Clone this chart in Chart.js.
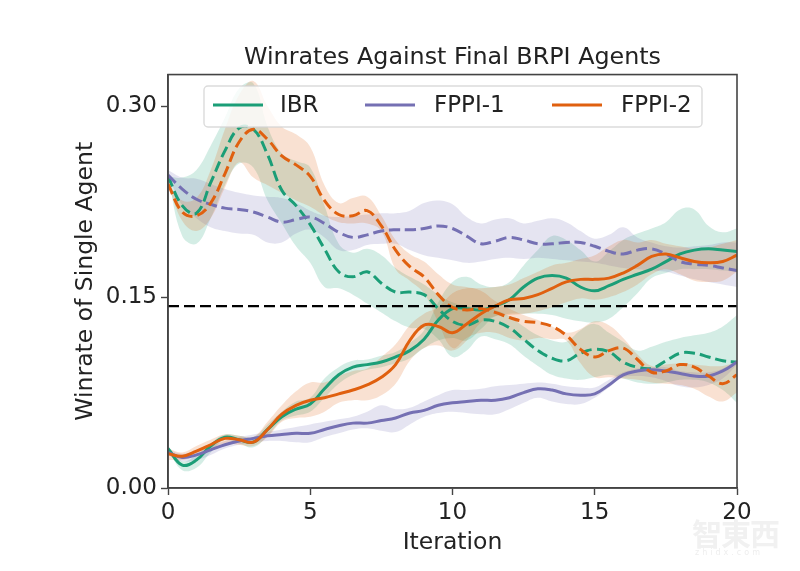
<!DOCTYPE html>
<html>
<head>
<meta charset="utf-8">
<script src="https://cdn.jsdelivr.net/npm/chart.js@4"></script>
<style>
    body { margin: 0; background: #fff; }
    #wrap { position: relative; width: 800px; height: 571px; }
    #mark { position: absolute; left: 692px; top: 510px; font: bold 30px "Noto Sans CJK TC"; color: #f1f1f1; letter-spacing: -1px; }
    #markSub { position: absolute; left: 695px; top: 548px; font: 8px "DejaVu Sans"; color: #eeeeee; letter-spacing: 3px; }
</style>
</head>
<body>
<div id="wrap">
    <canvas id="winrateChart" width="800" height="571"></canvas>
    <div id="mark">智東西</div>
    <div id="markSub">zhidx.com</div>
</div>
<script>
const iterations = [0,0.5,1,1.5,2,2.5,3,3.5,4,4.5,5,5.5,6,6.5,7,7.5,8,8.5,9,9.5,10,10.5,11,11.5,12,12.5,13,13.5,14,14.5,15,15.5,16,16.5,17,17.5,18,18.5,19,19.5,20];
const legendNames = ['IBR', 'FPPI-1', 'FPPI-2'];
const xTicks = [0, 5, 10, 15, 20];
const yTicks = [0, 0.15, 0.30];
const baseline = 0.143;

// dashed curves (upper group)
const ibrDash = [.245,.222,.216,.240,.265,.283,.282,.262,.234,.222,.207,.188,.170,.166,.170,.161,.154,.154,.152,.141,.131,.128,.132,.131,.126,.117,.108,.102,.100,.106,.109,.107,.099,.095,.094,.100,.106,.106,.103,.100,.099];
const ibrDashHi = [.245,.244,.250,.269,.291,.314,.318,.284,.263,.257,.252,.222,.192,.185,.188,.183,.173,.166,.160,.152,.146,.143,.142,.140,.135,.127,.120,.116,.115,.124,.129,.122,.115,.108,.111,.115,.118,.120,.122,.127,.136];
const ibrDashLo = [.245,.198,.192,.212,.238,.255,.252,.226,.208,.190,.177,.158,.157,.152,.145,.138,.131,.126,.125,.117,.103,.108,.119,.117,.113,.104,.096,.089,.086,.085,.087,.089,.086,.083,.082,.083,.085,.085,.083,.077,.067];
const fppi1Dash = [.246,.235,.227,.223,.220,.219,.217,.213,.209,.211,.213,.208,.201,.197,.199,.202,.203,.203,.204,.206,.204,.198,.192,.194,.197,.195,.192,.192,.193,.193,.190,.186,.184,.187,.188,.184,.178,.176,.175,.173,.171];
const fppi1DashHi = [.250,.244,.243,.239,.235,.232,.230,.229,.228,.224,.218,.214,.213,.214,.215,.216,.216,.218,.224,.226,.223,.213,.208,.211,.212,.208,.210,.212,.209,.202,.196,.199,.205,.197,.193,.190,.189,.190,.191,.193,.193];
const fppi1DashLo = [.246,.222,.212,.205,.202,.200,.199,.193,.193,.200,.203,.197,.187,.187,.191,.192,.192,.187,.183,.181,.179,.177,.178,.180,.181,.180,.181,.180,.179,.178,.177,.175,.173,.172,.171,.170,.167,.164,.162,.160,.158];
const fppi2Dash = [.239,.217,.214,.224,.247,.272,.282,.274,.261,.254,.245,.226,.215,.214,.218,.206,.187,.174,.166,.152,.142,.140,.141,.138,.134,.131,.130,.127,.120,.109,.103,.108,.110,.101,.091,.092,.097,.095,.088,.082,.089];
const fppi2DashHi = [.239,.226,.228,.250,.282,.309,.320,.300,.284,.278,.268,.238,.224,.228,.229,.214,.195,.184,.178,.168,.160,.158,.155,.147,.141,.136,.132,.127,.122,.125,.131,.128,.118,.105,.096,.097,.098,.097,.096,.096,.099];
const fppi2DashLo = [.239,.210,.202,.212,.236,.256,.244,.238,.232,.226,.221,.214,.209,.208,.208,.202,.172,.163,.153,.130,.110,.118,.122,.122,.118,.116,.118,.117,.116,.098,.087,.087,.086,.085,.083,.082,.081,.078,.072,.068,.075];

// solid curves (lower group)
const ibrSolid = [.031,.018,.022,.033,.040,.038,.036,.046,.056,.062,.066,.078,.089,.095,.097,.099,.103,.108,.117,.132,.141,.141,.140,.143,.148,.158,.165,.167,.165,.158,.155,.159,.164,.168,.172,.178,.184,.187,.188,.187,.186];
const ibrSolidHi = [.032,.021,.026,.035,.042,.041,.040,.050,.060,.068,.071,.086,.095,.100,.101,.104,.107,.114,.124,.146,.162,.166,.160,.158,.162,.175,.187,.198,.195,.187,.178,.186,.195,.200,.204,.209,.219,.219,.206,.201,.204];
const ibrSolidLo = [.030,.014,.016,.028,.038,.035,.032,.041,.053,.057,.060,.071,.082,.089,.093,.095,.098,.102,.110,.116,.118,.116,.125,.135,.137,.137,.137,.136,.133,.131,.130,.133,.142,.153,.165,.169,.172,.172,.172,.171,.170];
const fppi1Solid = [.028,.024,.026,.030,.034,.037,.039,.041,.042,.043,.043,.046,.049,.051,.051,.053,.055,.059,.061,.065,.067,.068,.069,.069,.071,.075,.078,.077,.074,.073,.074,.081,.089,.092,.093,.092,.090,.088,.088,.092,.099];
const fppi1SolidHi = [.030,.027,.029,.033,.037,.040,.042,.044,.046,.048,.050,.052,.054,.056,.060,.065,.062,.063,.068,.073,.077,.077,.078,.080,.081,.082,.083,.082,.080,.079,.079,.085,.091,.094,.095,.095,.092,.091,.091,.094,.100];
const fppi1SolidLo = [.026,.021,.022,.026,.031,.034,.036,.037,.037,.036,.036,.040,.043,.046,.047,.045,.044,.050,.056,.059,.060,.059,.058,.058,.062,.067,.071,.068,.066,.066,.071,.079,.087,.088,.087,.084,.080,.079,.081,.086,.097];
const fppi2Solid = [.027,.025,.029,.034,.039,.038,.036,.046,.058,.065,.069,.071,.074,.077,.081,.087,.097,.116,.128,.127,.122,.129,.137,.143,.148,.149,.152,.157,.162,.164,.164,.165,.169,.175,.182,.184,.181,.178,.177,.178,.183];
const fppi2SolidHi = [.031,.028,.033,.038,.042,.041,.040,.052,.065,.076,.083,.083,.088,.092,.094,.103,.113,.128,.137,.142,.153,.157,.157,.158,.160,.165,.170,.175,.177,.180,.183,.190,.195,.193,.195,.192,.190,.188,.189,.192,.195];
const fppi2SolidLo = [.022,.022,.026,.030,.035,.034,.033,.040,.052,.055,.056,.060,.067,.069,.069,.073,.082,.100,.110,.112,.108,.116,.130,.135,.136,.137,.139,.142,.146,.149,.148,.150,.154,.160,.168,.172,.168,.163,.162,.163,.170];

const green = '#1b9e77', purple = '#7570b3', orange = '#e0600f';

function toPoints(values) {
    return values.map((v, i) => ({ x: iterations[i], y: v }));
}

const datasets = [];
let drawOrder = 100; // higher order is painted first in Chart.js

// one filled band: upper edge filled down to the lower edge
function addBand(hi, lo, color) {
    const lowIndex = datasets.length;
    datasets.push({ data: toPoints(lo), borderWidth: 0, pointRadius: 0, tension: 0.4, fill: false, order: drawOrder-- });
    datasets.push({
        data: toPoints(hi), borderWidth: 0, pointRadius: 0, tension: 0.4,
        fill: { target: lowIndex }, backgroundColor: color + '30', order: drawOrder--
    });
}

function addLine(values, color, dashed) {
    datasets.push({
        data: toPoints(values), borderColor: color, borderWidth: 3, pointRadius: 0, tension: 0.4,
        fill: false, borderDash: dashed ? [11, 5] : [], order: drawOrder--
    });
}

addBand(ibrDashHi, ibrDashLo, green);
addBand(ibrSolidHi, ibrSolidLo, green);
addBand(fppi1DashHi, fppi1DashLo, purple);
addBand(fppi1SolidHi, fppi1SolidLo, purple);
addBand(fppi2DashHi, fppi2DashLo, orange);
addBand(fppi2SolidHi, fppi2SolidLo, orange);
addLine(ibrDash, green, true);
addLine(ibrSolid, green, false);
addLine(fppi1Dash, purple, true);
addLine(fppi1Solid, purple, false);
addLine(fppi2Dash, orange, true);
addLine(fppi2Solid, orange, false);
datasets.push({
    data: [{ x: xTicks[0], y: baseline }, { x: xTicks[4], y: baseline }],
    borderColor: '#000', borderWidth: 2.4, borderDash: [11, 5], pointRadius: 0, fill: false, order: drawOrder--
});

// frame on all four sides plus the legend box on top of the curves
const frameAndLegend = {
    id: 'frameAndLegend',
    afterDatasetsDraw(chart) {
        const ctx = chart.ctx;
        const area = chart.chartArea;
        ctx.save();
        ctx.setLineDash([]);
        ctx.strokeStyle = '#444';
        ctx.lineWidth = 1.6;
        ctx.strokeRect(area.left, area.top, area.right - area.left, area.bottom - area.top);

        ctx.fillStyle = 'rgba(255,255,255,0.8)';
        ctx.strokeStyle = 'rgba(210,210,210,0.8)';
        ctx.lineWidth = 1.4;
        ctx.beginPath();
        ctx.roundRect(204, 86, 498, 41, 4);
        ctx.fill();
        ctx.stroke();

        const colors = [green, purple, orange];
        const handles = [213, 365, 552];
        const labels = [280, 434, 621];
        ctx.font = '23px "DejaVu Sans"';
        ctx.textBaseline = 'middle';
        legendNames.forEach((name, i) => {
            ctx.strokeStyle = colors[i];
            ctx.lineWidth = 3;
            ctx.beginPath();
            ctx.moveTo(handles[i], 105);
            ctx.lineTo(handles[i] + 50, 105);
            ctx.stroke();
            ctx.fillStyle = '#222';
            ctx.fillText(name, labels[i], 106);
        });
        ctx.restore();
    }
};

new Chart(document.getElementById('winrateChart').getContext('2d'), {
    type: 'line',
    data: { datasets: datasets },
    plugins: [frameAndLegend],
    options: {
        responsive: false,
        animation: false,
        layout: { padding: { left: 72, right: 63, top: 44, bottom: 14 } },
        plugins: {
            legend: { display: false },
            tooltip: { enabled: false },
            title: {
                display: true,
                fullSize: false,
                text: 'Winrates Against Final BRPI Agents',
                color: '#222',
                font: { family: 'DejaVu Sans', size: 23.8, weight: 'normal' },
                padding: { top: 0, bottom: 2 }
            }
        },
        scales: {
            x: {
                type: 'linear',
                min: 0,
                max: 20,
                afterBuildTicks(axis) { axis.ticks = xTicks.map(v => ({ value: v })); },
                afterFit(axis) { axis.height = 69; },
                grid: { drawOnChartArea: false, tickLength: 7, tickColor: '#444', tickWidth: 1.4 },
                border: { color: '#444', width: 1.6 },
                ticks: { color: '#222', maxRotation: 0, padding: 4, font: { family: 'DejaVu Sans', size: 23 } },
                title: {
                    display: true,
                    text: 'Iteration',
                    color: '#222',
                    padding: { top: 2, bottom: 0 },
                    font: { family: 'DejaVu Sans', size: 23.5 }
                }
            },
            y: {
                min: 0,
                max: 0.325,
                afterBuildTicks(axis) { axis.ticks = yTicks.map(v => ({ value: v })); },
                afterFit(axis) { axis.width = 96; },
                grid: { drawOnChartArea: false, tickLength: 7, tickColor: '#444', tickWidth: 1.4 },
                border: { color: '#444', width: 1.6 },
                ticks: {
                    color: '#222',
                    padding: 4,
                    font: { family: 'DejaVu Sans', size: 23 },
                    callback: v => v.toFixed(2)
                },
                title: {
                    display: true,
                    text: 'Winrate of Single Agent',
                    color: '#222',
                    padding: { top: 0, bottom: 0 },
                    font: { family: 'DejaVu Sans', size: 23.5 }
                }
            }
        }
    }
});
</script>
</body>
</html>
